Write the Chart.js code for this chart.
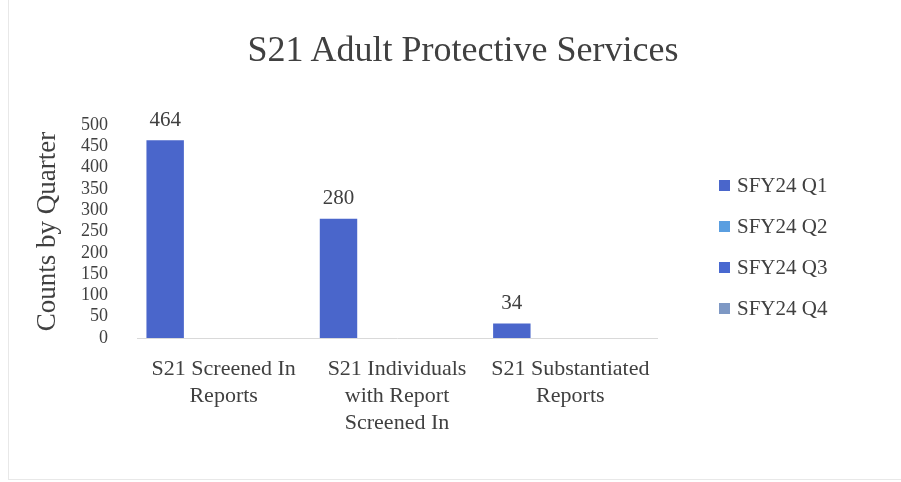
<!DOCTYPE html>
<html>
<head>
<meta charset="utf-8">
<title>S21 Adult Protective Services</title>
<script src="https://cdn.jsdelivr.net/npm/chart.js@4.4.1/dist/chart.umd.min.js"></script>
<style>
  body { margin: 0; background: #fff; font-family: "Liberation Serif", serif; color: #404040; }
  #wrap { position: relative; width: 901px; height: 482px; }
  #frame { position: absolute; left: 8px; top: 0; width: 892px; height: 479px;
           border-left: 1px solid #e8e8e8; border-bottom: 1px solid #e8e8e8; }
  #chart { position: absolute; left: 0; top: 0; }
  #title { position: absolute; left: 0; top: 28px; width: 926px; text-align: center; font-size: 36px; }
  #legend { position: absolute; left: 719px; top: 165px; margin: 0; padding: 0; list-style: none; }
  #legend li { height: 41px; display: flex; align-items: center; font-size: 21px; }
  #legend span.box { width: 11px; height: 11px; margin-right: 7px; display: inline-block; }
</style>
</head>
<body>
<div id="wrap">
  <div id="frame"></div>
  <canvas id="chart" width="901" height="482"></canvas>
  <div id="title">S21 Adult Protective Services</div>
  <ul id="legend"></ul>
</div>
<script>
const categories = [
  ['S21 Screened In', 'Reports'],
  ['S21 Individuals', 'with Report', 'Screened In'],
  ['S21 Substantiated', 'Reports']
];
const seriesNames = ['SFY24 Q1', 'SFY24 Q2', 'SFY24 Q3', 'SFY24 Q4'];
const q1Counts = [464, 280, 34];
const q2Counts = [null, null, null];
const q3Counts = [null, null, null];
const q4Counts = [null, null, null];
const yTicks = [0, 50, 100, 150, 200, 250, 300, 350, 400, 450, 500];
const seriesColors = ['#4a66cb', '#5a9ee0', '#4868d0', '#7e98c4'];

const textColor = '#404040';
const serif = '"Liberation Serif", serif';

// value printed above each non-empty bar
const barValueLabels = {
  id: 'barValueLabels',
  afterDatasetsDraw(chart) {
    const ctx = chart.ctx;
    ctx.save();
    ctx.font = '21px ' + serif;
    ctx.fillStyle = textColor;
    ctx.textAlign = 'center';
    ctx.textBaseline = 'middle';
    chart.data.datasets.forEach((ds, i) => {
      chart.getDatasetMeta(i).data.forEach((bar, j) => {
        const v = ds.data[j];
        if (v == null) return;
        ctx.fillText(String(v), bar.x, bar.y - 20);
      });
    });
    ctx.restore();
  }
};

const allSeries = [q1Counts, q2Counts, q3Counts, q4Counts];

const chart = new Chart(document.getElementById('chart'), {
  type: 'bar',
  data: {
    labels: categories,
    datasets: seriesNames.map((name, i) => ({
      label: name,
      data: allSeries[i],
      backgroundColor: seriesColors[i],
      categoryPercentage: 0.9,
      barPercentage: 0.96
    }))
  },
  options: {
    responsive: false,
    animation: false,
    layout: { padding: { left: 12, right: 244, top: 125, bottom: 0 } },
    plugins: {
      legend: { display: false },
      title: { display: false },
      tooltip: { enabled: false }
    },
    scales: {
      x: {
        grid: { display: false },
        border: { color: '#d9d9d9' },
        ticks: {
          color: textColor,
          font: { family: serif, size: 22, lineHeight: 1.23 },
          padding: 10,
          maxRotation: 0,
          autoSkip: false
        },
        afterFit(scale) { scale.height = 144; }
      },
      y: {
        min: 0,
        max: 500,
        grid: { display: false },
        border: { display: false },
        afterBuildTicks(scale) { scale.ticks = yTicks.map(v => ({ value: v })); },
        ticks: {
          color: textColor,
          font: { family: serif, size: 18, lineHeight: 1 },
          padding: 21,
          autoSkip: false
        },
        title: {
          display: true,
          text: 'Counts by Quarter',
          color: textColor,
          font: { family: serif, size: 27 },
          padding: { top: 20, bottom: 0 }
        },
        afterFit(scale) { scale.width = 125; }
      }
    }
  },
  plugins: [barValueLabels]
});

// legend built from the chart's datasets
const legendEl = document.getElementById('legend');
chart.data.datasets.forEach(ds => {
  const li = document.createElement('li');
  li.innerHTML = '<span class="box" style="background:' + ds.backgroundColor + '"></span>' + ds.label;
  legendEl.appendChild(li);
});
</script>
</body>
</html>
